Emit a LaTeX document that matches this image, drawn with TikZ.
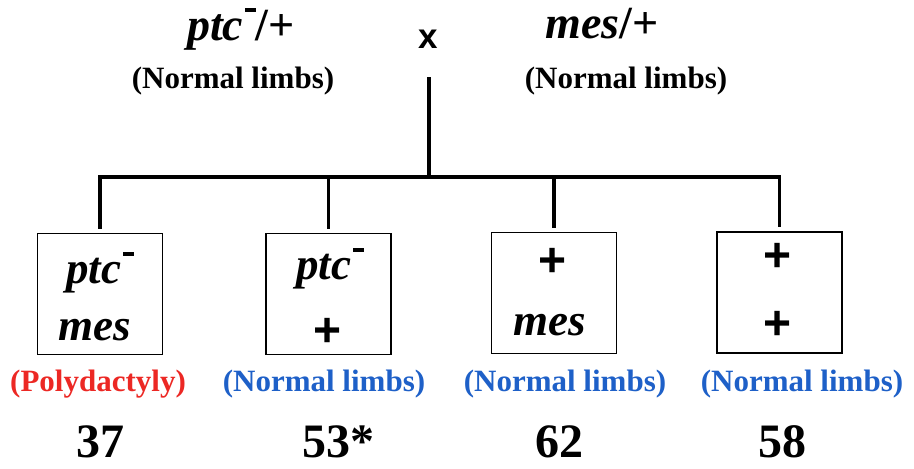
\documentclass[tikz,border=0pt]{standalone}
\usepackage{fontspec}
\setmainfont{Liberation Serif}
\setsansfont{Liberation Sans}
\definecolor{polyred}{RGB}{236,40,36}
\definecolor{normblue}{RGB}{30,96,200}
\newcommand{\mns}{\kern0.04em\rule[0.6em]{0.23em}{0.09em}}
\begin{document}
\begin{tikzpicture}[x=1pt,y=-1pt,
  every node/.style={inner sep=0pt, outer sep=0pt},
  topgene/.style={font=\fontsize{46}{50}\selectfont\bfseries\itshape, anchor=base},
  gene/.style={font=\fontsize{45}{48}\selectfont\bfseries\itshape, anchor=base},
  sansplus/.style={font=\fontsize{48}{52}\selectfont\sffamily\bfseries, anchor=center},
  crossmark/.style={font=\fontsize{35}{40}\selectfont\sffamily\bfseries, anchor=base},
  pheno/.style={font=\fontsize{31}{34}\selectfont\bfseries, anchor=base},
  count/.style={font=\fontsize{48}{52}\selectfont\bfseries, anchor=base},
  genobox/.style={draw, line width=1.6pt, minimum width=125pt, minimum height=121pt},
  conn/.style={line width=3.8pt, line join=miter}
]
\useasboundingbox (0,0) rectangle (914,469);

% parents
\node[topgene] (p1) at (241,40) {ptc\mns{\upshape/+}};
\node[crossmark] (cross) at (428,48) {x};
\node[topgene] (p2) at (602,38) {mes{\upshape/+}};
\node[pheno] (pl1) at (233,88) {(Normal limbs)};
\node[pheno] (pl2) at (626,88) {(Normal limbs)};

% boxes
\node[genobox] (b1) at (100,294) {};
\node[genobox] (b2) at (328.5,294) {};
\node[genobox] (b3) at (554,293) {};
\node[genobox] (b4) at (779.5,292.5) {};

% box contents
\node[gene] (g1a) at (100,283) {ptc\mns};
\node[gene] (g1b) at (95,340) {mes};
\node[gene] (g2a) at (330,279) {ptc\mns};
\node[sansplus] (g2b) at (328,332) {+};
\node[sansplus] (g3a) at (553,262) {+};
\node[gene] (g3b) at (550,335) {mes};
\node[sansplus] (g4a) at (778,257) {+};
\node[sansplus] (g4b) at (778,325) {+};

% phenotypes
\node[pheno, text=polyred] (ph1) at (98,391) {(Polydactyly)};
\node[pheno, text=normblue] (ph2) at (324,391) {(Normal limbs)};
\node[pheno, text=normblue] (ph3) at (565,391) {(Normal limbs)};
\node[pheno, text=normblue] (ph4) at (802,391) {(Normal limbs)};

% counts
\node[count] (n1) at (100,457) {37};
\node[count] (n2) at (338,457) {53*};
\node[count] (n3) at (559,457) {62};
\node[count] (n4) at (782,457) {58};

% connectors
\coordinate (top) at (429,77);
\coordinate (bar) at (429,177);
\coordinate (d1) at ([yshift=5pt]b1.north);
\coordinate (d2) at ([yshift=5pt]b2.north);
\coordinate (d3) at ([yshift=5pt]b3.north);
\coordinate (d4) at ([yshift=5pt]b4.north);
\draw[conn] (top) -- (bar);
\draw[conn] (d1) |- (d4 |- bar) -- (d4);
\draw[conn] (d2) -- (d2 |- bar);
\draw[conn] (d3) -- (d3 |- bar);
\end{tikzpicture}
\end{document}
